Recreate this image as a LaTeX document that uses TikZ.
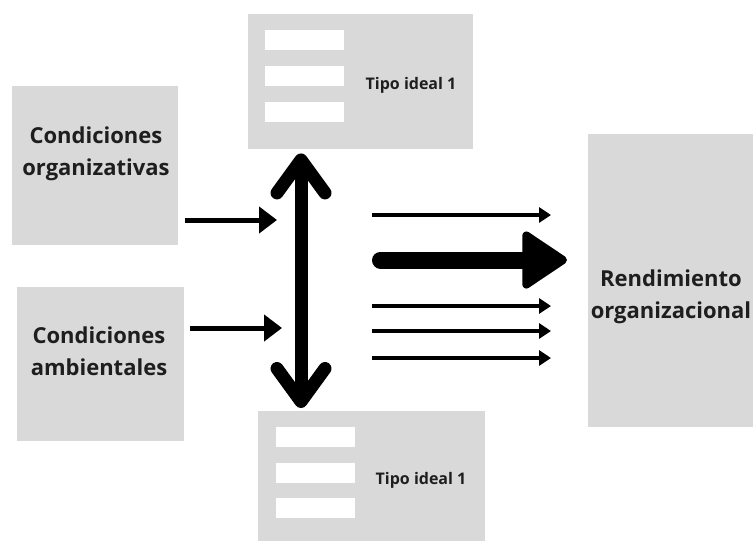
\documentclass[tikz,border=0pt]{standalone}
\usepackage{fontspec}
\setmainfont{Open Sans}
\usetikzlibrary{arrows.meta}
\definecolor{panelgray}{HTML}{D9D9D9}
\definecolor{inkcol}{HTML}{1E1E1E}
\begin{document}
\begin{tikzpicture}[x=1pt,y=-1pt,
  panel/.style={fill=panelgray, draw=none, inner sep=0pt, anchor=north west},
  bar/.style={fill=white, draw=none, inner sep=0pt, anchor=north west,
    minimum width=79pt, minimum height=20pt},
  lbl/.style={font=\bfseries\fontsize{22}{32}\selectfont, align=center,
    text=inkcol, inner sep=0pt},
  smalllbl/.style={font=\bfseries\fontsize{16}{18}\selectfont,
    text=inkcol, inner sep=0pt},
  inarr/.style={line width=5pt, -{Triangle[length=18pt,width=26pt]}},
  outarr/.style={line width=3.5pt, -{Triangle[length=12pt,width=15pt]}},
  bigarr/.style={line width=17pt, line cap=round,
    -{Triangle[length=48pt,width=62pt,line width=8pt,round]}},
  dblarr/.style={line width=13pt,
    {Straight Barb[length=33pt,width=48pt,round]}-{Straight Barb[length=33pt,width=48pt,round]}}
]
\clip (0,0) rectangle (753,541);
\fill[white] (0,0) rectangle (753,541);

% input conditions
\node[panel, minimum width=166pt, minimum height=159pt] (org) at (12,86) {};
\node[lbl] (orgtxt) at (96,154) {Condiciones\\organizativas};
\node[panel, minimum width=167pt, minimum height=154pt] (amb) at (17,287) {};
\node[lbl] (ambtxt) at (99,351) {Condiciones\\ambientales};

% ideal types
\node[panel, minimum width=225pt, minimum height=135pt] (top) at (248,14) {};
\node[bar] (tb1) at (265,30) {};
\node[bar] (tb2) at (265,66) {};
\node[bar] (tb3) at (265,102) {};
\node[smalllbl] (toptxt) at (411,85) {Tipo ideal 1};

\node[panel, minimum width=227pt, minimum height=135pt] (bot) at (258,411) {};
\node[bar] (bb1) at (276,427) {};
\node[bar] (bb2) at (276,463) {};
\node[bar] (bb3) at (276,498) {};
\node[smalllbl] (bottxt) at (421,480) {Tipo ideal 1};

% outcome
\node[panel, minimum width=175pt, minimum height=293pt] (rend) at (588,134) {};
\node[lbl] (rendtxt) at (671,297) {Rendimiento\\organizacional};

% vertical axis between the ideal types
\coordinate (vx) at (301,0);
\draw[dblarr, shorten <=4pt, shorten >=3pt] (top.south -| vx) -- (bot.north -| vx);

% inputs into the axis
\draw[inarr, shorten <=7pt, shorten >=24pt] (org.east |- 0,220) -- (vx |- 0,220);
\draw[inarr, shorten <=6pt, shorten >=19pt] (amb.east |- 0,328) -- (vx |- 0,328);

% outputs towards performance
\draw[outarr, shorten <=71pt, shorten >=37pt] (vx |- 0,215) -- (rend.west |- 0,215);
\draw[bigarr, shorten <=79.5pt, shorten >=21pt] (vx |- 0,260) -- (rend.west |- 0,260);
\draw[outarr, shorten <=71pt, shorten >=37pt] (vx |- 0,306) -- (rend.west |- 0,306);
\draw[outarr, shorten <=71pt, shorten >=37pt] (vx |- 0,331) -- (rend.west |- 0,331);
\draw[outarr, shorten <=71pt, shorten >=37pt] (vx |- 0,358) -- (rend.west |- 0,358);
\end{tikzpicture}
\end{document}
